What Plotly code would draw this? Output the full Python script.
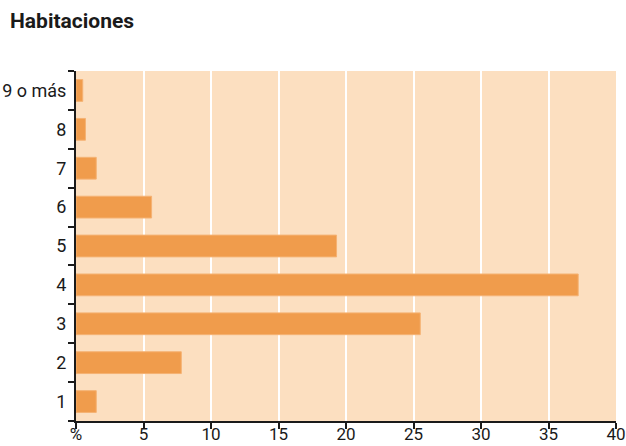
import plotly.graph_objects as go

# Share of dwellings by number of rooms (%)
rooms = ["1", "2", "3", "4", "5", "6", "7", "8", "9 o más"]
share = [1.5, 7.8, 25.5, 37.2, 19.3, 5.6, 1.5, 0.7, 0.5]

x_ticks = [0, 5, 10, 15, 20, 25, 30, 35, 40]
x_tick_text = ["%", "5", "10", "15", "20", "25", "30", "35", "40"]

bar_color = "#F09C4C"
bg_color = "#FCDFC0"
font_family = "Roboto, Liberation Sans, sans-serif"

fig = go.Figure(
    go.Bar(
        x=share,
        y=rooms,
        orientation="h",
        width=0.56,
        marker=dict(color=bar_color, line=dict(color="#F5B273", width=1)),
        hoverinfo="skip",
    )
)

fig.update_layout(
    width=626,
    height=446,
    margin=dict(l=76, r=10, t=71, b=25),
    paper_bgcolor="white",
    plot_bgcolor=bg_color,
    font=dict(family=font_family, size=18, color="#1a1a1a"),
    showlegend=False,
    title=dict(
        text="<b>Habitaciones</b>",
        x=10 / 626,
        xanchor="left",
        xref="container",
        y=1 - 21 / 446,
        yanchor="middle",
        yref="container",
        font=dict(family=font_family, size=21, color="#1a1a1a"),
    ),
)

fig.update_xaxes(
    range=[0, 40],
    tickvals=x_ticks,
    ticktext=x_tick_text,
    tickfont=dict(size=17),
    showgrid=True,
    gridcolor="white",
    gridwidth=1.5,
    zeroline=False,
    showline=True,
    linecolor="#1a1a1a",
    linewidth=2,
    ticks="outside",
    ticklen=6,
    tickwidth=2,
    tickcolor="#1a1a1a",
    ticklabelstandoff=-9,
    ticklabeloverflow="allow",
    automargin=False,
    fixedrange=True,
)

fig.update_yaxes(
    type="category",
    categoryorder="array",
    categoryarray=rooms,
    range=[-0.5, len(rooms) - 0.5],
    showgrid=False,
    showline=True,
    linecolor="#1a1a1a",
    linewidth=2,
    ticks="outside",
    tickson="boundaries",
    ticklen=6,
    tickwidth=2,
    tickcolor="#1a1a1a",
    ticklabelstandoff=4,
    automargin=False,
    fixedrange=True,
)

fig.write_html("out.html")
